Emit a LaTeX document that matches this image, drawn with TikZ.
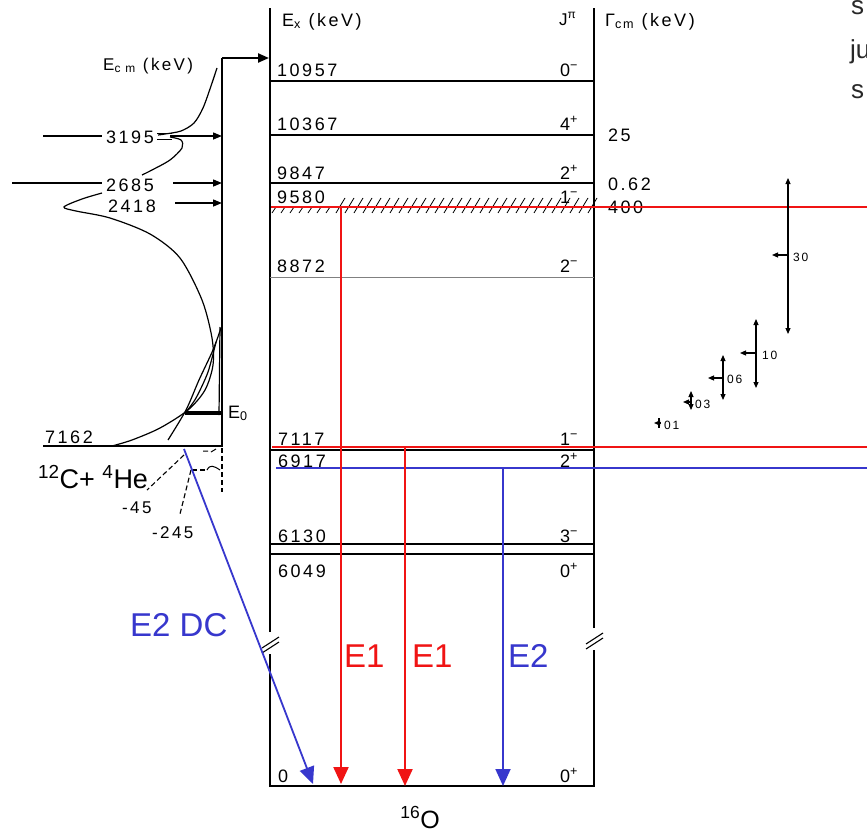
\documentclass[tikz,border=0pt]{standalone}
\usepackage{fontspec}
\setmainfont{Liberation Sans}
\newfontfamily\scanfont{Liberation Sans}[LetterSpace=14]
\usetikzlibrary{arrows.meta}
\definecolor{myred}{RGB}{240,20,20}
\definecolor{myblue}{RGB}{55,55,205}
\definecolor{slidetext}{RGB}{40,40,40}
\begin{document}
\begin{tikzpicture}[x=1pt,y=-1pt,
  lvl/.style={draw=black,line width=1.1pt},
  frame/.style={draw=black,line width=2.6pt},
  lab/.style={anchor=base west,inner sep=0pt,font=\fontsize{18}{18}\scanfont},
  smalllab/.style={anchor=base west,inner sep=0pt,font=\fontsize{12}{12}\scanfont},
  biglab/.style={anchor=base west,inner sep=0pt,font=\fontsize{33}{33}\selectfont},
  gamma/.style={line width=2.2pt,-{Triangle[width=15pt,length=17pt]}},
  feed/.style={line width=1.4pt,-{Triangle[width=7pt,length=9pt]}},
  curve/.style={line width=1.2pt},
  dsh/.style={line width=1.1pt,dash pattern=on 5pt off 3pt},
  widtharrow/.style={line width=1.1pt,{Triangle[width=5pt,length=6pt]}-{Triangle[width=5pt,length=6pt]}},
  tick/.style={line width=1.1pt,-{Triangle[width=5pt,length=6pt]}}]
\useasboundingbox[fill=white] (0,0) rectangle (867,835);

% ---------- main level box ----------
\fill[white] (264,634) rectangle (277,652);
\fill[white] (587,630) rectangle (600,648);
\draw[frame] (270,786) -- (594,786);
\draw[frame] (270,787) -- (270,654);
\draw[frame] (270,632) -- (270,8);
\draw[frame] (594,787) -- (594,650);
\draw[frame] (594,628) -- (594,8);
\draw[line width=1.1pt] (262,648) -- (279,637) (262,653) -- (279,642);
\draw[line width=1.1pt] (586,644) -- (603,633) (586,649) -- (603,638);

% headers
\node[anchor=base west,inner sep=0pt,font=\fontsize{18}{18}\scanfont] (hEx) at (282,26) {E\textsubscript{x} (keV)};
\node[anchor=base west,inner sep=0pt,font=\fontsize{17}{17}\scanfont] (hJ) at (559,25) {J\textsuperscript{π}};
\node[anchor=base west,inner sep=0pt,font=\fontsize{18}{18}\scanfont] (hG) at (605,26) {Γ\textsubscript{cm} (keV)};

% levels
\draw[lvl] (270,81) -- (594,81);
\draw[lvl] (270,135) -- (594,135);
\draw[lvl] (270,183) -- (594,183);
\draw[draw=gray,line width=0.9pt] (270,277) -- (594,277);
\draw[lvl] (270,450) -- (594,450);
\draw[lvl,line width=1.6pt] (270,544) -- (594,544);
\draw[lvl] (270,554) -- (594,554);

% hatching of the 9580 level
\foreach \hx in {272,281,...,330} \draw[line width=0.8pt] (\hx,213) -- (\hx+4,207);
\foreach \hx in {336,345,...,588} \draw[line width=0.8pt] (\hx,213) -- (\hx+9,198);

% level labels
\node[lab] (l10957) at (277,76) {10957};
\node[lab] (l10367) at (277,130) {10367};
\node[lab] (l9847) at (277,179) {9847};
\node[lab] (l9580) at (277,203) {9580};
\node[lab] (l8872) at (277,272) {8872};
\node[lab] (l7117) at (278,445) {7117};
\node[lab] (l6917) at (278,467) {6917};
\node[lab] (l6130) at (278,542) {6130};
\node[lab] (l6049) at (278,577) {6049};
\node[lab] (l0) at (278,782) {0};
\node[lab] (j10957) at (560,76) {0\textsuperscript{−}};
\node[lab] (j10367) at (560,130) {4\textsuperscript{+}};
\node[lab] (j9847) at (560,179) {2\textsuperscript{+}};
\node[lab] (j9580) at (560,203) {1\textsuperscript{−}};
\node[lab] (j8872) at (560,272) {2\textsuperscript{−}};
\node[lab] (j7117) at (560,445) {1\textsuperscript{−}};
\node[lab] (j6917) at (560,467) {2\textsuperscript{+}};
\node[lab] (j6130) at (560,542) {3\textsuperscript{−}};
\node[lab] (j6049) at (560,577) {0\textsuperscript{+}};
\node[lab] (j0) at (560,782) {0\textsuperscript{+}};
\node[lab] (w25) at (608,141) {25};
\node[lab] (w062) at (608,190) {0.62};
\node[lab] (w400) at (608,213) {400};
\node[anchor=base,inner sep=0pt,font=\fontsize{25}{25}\selectfont] (o16) at (420,828) {\textsuperscript{16}O};

% ---------- left (12C+4He) side ----------
\draw[frame] (222,447) -- (222,58);
\coordinate (topL) at (222,58);
\coordinate (topR) at (269,58);
\draw[line width=2.2pt,-{Triangle[width=9pt,length=11pt]}] (topL) -- (topR);
\draw[line width=2.6pt] (43,446) -- (222,446);
\node[anchor=base west,inner sep=0pt,font=\fontsize{17}{17}\scanfont] (ecm) at (103,70) {E\textsubscript{c m} (keV)};

\draw[line width=2.2pt] (43,136) -- (102,136);
\draw[line width=2.8pt] (12,183) -- (102,183);
\node[lab] (e3195) at (106,143) {3195};
\node[lab] (e2685) at (106,191) {2685};
\node[lab] (e2418) at (108,212) {2418};
\node[lab] (e7162) at (45,443) {7162};
\coordinate (a1s) at (170,136); \coordinate (a1e) at (222,136);
\coordinate (a2s) at (173,183); \coordinate (a2e) at (222,183);
\coordinate (a3s) at (175,203); \coordinate (a3e) at (222,203);
\draw[feed] (a1s) -- (a1e);
\draw[feed] (a2s) -- (a2e);
\draw[feed] (a3s) -- (a3e);
\draw[line width=1pt] (157,133) -- (172,133) (157,139) -- (172,139);

% excitation curve
\draw[curve] plot[smooth] coordinates {(217,68) (211,86) (203,108) (194,123) (181,131) (165,134) (158,135)};
\draw[curve] plot[smooth] coordinates {(170,137) (181,140) (182,148) (170,160) (152,170) (142,175)};
\draw[curve] plot[smooth] coordinates {(102,193) (82,199) (64,207) (76,211) (110,218) (150,234) (180,258) (202,300) (212,338) (213,365) (205,390) (188,410) (160,428) (132,440) (112,446)};
\draw[curve] (220,327) -- (219,415);
\draw[curve] plot[smooth] coordinates {(221,328) (213,350) (199,380) (186,410) (168,440)};
\draw[curve] plot[smooth] coordinates {(216,342) (208,372) (196,398) (186,412)};
% E0
\draw[line width=3.2pt] (185,413) -- (222,413);
\node[anchor=base west,inner sep=0pt,font=\fontsize{18}{18}\scanfont] (e0) at (228,418) {E\textsubscript{0}};

% below 7162
\node[anchor=base west,inner sep=0pt,font=\fontsize{27}{27}\selectfont] (cHe) at (38,488) {\textsuperscript{12}C+ \textsuperscript{4}He};
\draw[dsh] (184,455) -- (147,490);
\draw[dsh] (191,470) -- (180,514);
\draw[dsh] (192,470) -- (207,470);
\draw[line width=1pt] (207,470) .. controls (210,464) and (214,466) .. (220,470);
\draw[line width=1pt] (203,451) -- (208,451) (211,452) -- (216,449);
\draw[dsh] (222,448) -- (222,492);
\node[anchor=base west,inner sep=0pt,font=\fontsize{17}{17}\scanfont] (m45) at (122,513) {-45};
\node[anchor=base west,inner sep=0pt,font=\fontsize{17}{17}\scanfont] (m245) at (152,538) {-245};

% ---------- coloured overlays ----------
\draw[myred,line width=2.4pt] (271,207) -- (867,207);
\draw[myred,line width=2.4pt] (272,447) -- (867,447);
\draw[myblue,line width=2.2pt] (276,468) -- (867,468);

\coordinate (s1) at (341,207); \coordinate (g1) at (341,784);
\coordinate (s2) at (405,447); \coordinate (g2) at (405,786);
\coordinate (s3) at (503,468); \coordinate (g3) at (503,786);
\coordinate (s4) at (184,449); \coordinate (g4) at (313,784);
\draw[gamma,myred] (s1) -- (g1);
\draw[gamma,myred] (s2) -- (g2);
\draw[gamma,myblue,line width=1.8pt] (s3) -- (g3);
\draw[gamma,myblue,line width=1.8pt] (s4) -- (g4);
\node[biglab,text=myred] (tE1a) at (344,667) {E1};
\node[biglab,text=myred] (tE1b) at (412,667) {E1};
\node[biglab,text=myblue] (tE2) at (508,667) {E2};
\node[biglab,text=myblue] (tE2DC) at (130,636) {E2 DC};

% ---------- right: width bars ----------
\coordinate (b30t) at (788,178); \coordinate (b30b) at (788,334);
\draw[widtharrow] (b30t) -- (b30b);
\coordinate (t30a) at (788,255); \coordinate (t30b) at (772,255);
\draw[tick] (t30a) -- (t30b);
\node[smalllab] (n30) at (793,261) {30};

\coordinate (b10t) at (756,319); \coordinate (b10b) at (756,388);
\draw[widtharrow] (b10t) -- (b10b);
\coordinate (t10a) at (756,353); \coordinate (t10b) at (740,353);
\draw[tick] (t10a) -- (t10b);
\node[smalllab] (n10) at (762,359) {10};

\coordinate (b06t) at (723,355); \coordinate (b06b) at (723,400);
\draw[widtharrow] (b06t) -- (b06b);
\coordinate (t06a) at (723,378); \coordinate (t06b) at (708,378);
\draw[tick] (t06a) -- (t06b);
\node[smalllab] (n06) at (727,383) {06};

\coordinate (b03t) at (691,391); \coordinate (b03b) at (691,410);
\draw[widtharrow] (b03t) -- (b03b);
\coordinate (t03a) at (691,402); \coordinate (t03b) at (683,402);
\draw[tick] (t03a) -- (t03b);
\node[smalllab] (n03) at (695,408) {03};

\coordinate (b01t) at (659,418); \coordinate (b01b) at (659,428);
\draw[line width=1.3pt] (b01t) -- (b01b);
\coordinate (t01a) at (661,423); \coordinate (t01b) at (654,423);
\draw[tick] (t01a) -- (t01b);
\node[smalllab] (n01) at (664,429) {01};

% ---------- cut-off slide text (cut by the frame, as in the reference) ----------
\begin{scope}
\clip (840,0) rectangle (867,835);
\node[anchor=base west,inner sep=0pt,font=\fontsize{26}{26}\selectfont,text=slidetext] (st1) at (851,14) {s};
\node[anchor=base west,inner sep=0pt,font=\fontsize{26}{26}\selectfont,text=slidetext] (st2) at (850,58) {ju};
\node[anchor=base west,inner sep=0pt,font=\fontsize{26}{26}\selectfont,text=slidetext] (st3) at (851,98) {s};
\end{scope}
\end{tikzpicture}
\end{document}
